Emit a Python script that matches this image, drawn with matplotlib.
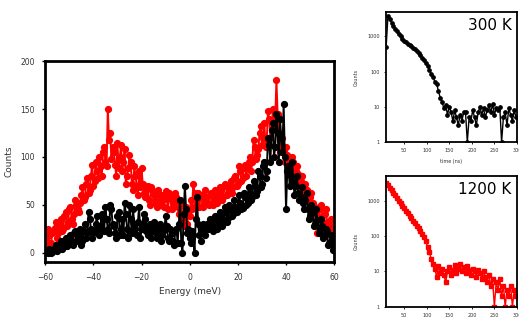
import numpy as np
import matplotlib.pyplot as plt
from matplotlib.ticker import FixedLocator, NullLocator

# dados do espectro principal (energia em meV)
# valores nos meV inteiros
energia_inteira = np.arange(-60, 61, 1)

contagens_1200k = [
    12, 25, 8, 20, 26, 15, 30, 22, 38, 28,
    45, 35, 40, 50, 42, 60, 55, 72, 62, 80,
    70, 95, 78, 90, 105, 95, 150, 125, 110, 92,
    115, 100, 85, 108, 80, 102, 72, 90, 70, 85,
    88, 62, 65, 55, 68, 60, 52, 65, 50, 60,
    64, 45, 58, 52, 62, 48, 55, 35, 42, 30,
    38, 45, 62, 55, 48, 60, 52, 58, 50, 62,
    55, 58, 60, 65, 58, 70, 62, 75, 68, 80,
    72, 85, 78, 92, 88, 100, 95, 110, 102, 125,
    112, 135, 118, 140, 128, 132, 180, 125, 112, 105,
    110, 100, 92, 95, 85, 82, 75, 68, 72, 62,
    58, 52, 48, 20, 45, 38, 40, 32, 30, 25,
    22,
]

contagens_300k = [
    2, 0, 3, 1, 5, 2, 8, 4, 12, 7,
    15, 10, 20, 12, 18, 8, 22, 15, 42, 25,
    20, 30, 22, 28, 35, 48, 25, 50, 30, 20,
    38, 18, 35, 52, 25, 50, 20, 30, 18, 48,
    25, 40, 22, 28, 15, 32, 20, 25, 12, 22,
    38, 15, 25, 12, 22, 10, 55, 0, 70, 20,
    15, 22, 0, 58, 18, 25, 22, 30, 26, 32,
    28, 35, 30, 38, 33, 42, 36, 45, 40, 48,
    44, 52, 47, 58, 52, 62, 58, 70, 64, 80,
    72, 95, 85, 112, 128, 100, 145, 95, 120, 155,
    45, 90, 80, 75, 70, 62, 58, 52, 55, 45,
    38, 42, 30, 34, 25, 28, 18, 22, 10, 12,
    5,
]

# valores nos meios meV (-59.5 ... 59.5)
energia_meia = np.arange(-59.5, 60, 1)

contagens_1200k_meia = [
    15, 18, 10, 22, 32, 20, 35, 25, 42, 32,
    48, 30, 55, 45, 52, 68, 58, 78, 65, 92,
    75, 85, 100, 80, 110, 90, 118, 98, 105, 80,
    88, 112, 95, 72, 88, 95, 65, 80, 60, 68,
    72, 58, 70, 50, 65, 55, 48, 60, 55, 48,
    56, 62, 45, 55, 58, 40, 50, 28, 48, 42,
    55, 72, 50, 62, 58, 48, 65, 52, 60, 50,
    65, 52, 68, 55, 72, 60, 68, 62, 78, 70,
    90, 75, 88, 80, 95, 85, 118, 98, 108, 132,
    120, 110, 148, 120, 150, 140, 145, 105, 120, 95,
    102, 88, 100, 78, 90, 70, 80, 60, 65, 55,
    62, 45, 40, 35, 50, 30, 45, 28, 35, 20,
]

contagens_300k_meia = [
    1, 4, 0, 3, 8, 5, 12, 6, 15, 10,
    18, 8, 22, 14, 25, 12, 30, 20, 35, 15,
    22, 38, 18, 40, 22, 35, 20, 45, 28, 15,
    42, 25, 18, 40, 15, 35, 45, 25, 32, 15,
    30, 35, 18, 30, 22, 28, 15, 30, 18, 25,
    28, 12, 20, 8, 25, 30, 10, 40, 45, 25,
    10, 18, 35, 30, 12, 30, 18, 25, 35, 22,
    38, 25, 42, 28, 48, 32, 50, 38, 55, 42,
    60, 45, 62, 50, 68, 55, 75, 60, 85, 68,
    90, 78, 120, 95, 135, 110, 125, 140, 105, 100,
    85, 70, 95, 60, 80, 55, 68, 45, 62, 35,
    50, 28, 45, 20, 35, 15, 25, 8, 18, 3,
]

# junta os dois conjuntos em ordem de energia
energia = np.empty(241)
energia[0::2] = energia_inteira
energia[1::2] = energia_meia
serie_1200k = np.empty(241)
serie_1200k[0::2] = contagens_1200k
serie_1200k[1::2] = contagens_1200k_meia
serie_300k = np.empty(241)
serie_300k[0::2] = contagens_300k
serie_300k[1::2] = contagens_300k_meia

# dados dos decaimentos (tempo em ns)
tempo = np.arange(10, 301, 4)

decaimento_300k = [
    500, 3800, 3100, 2500, 2000, 1650, 1400, 1200, 1000, 860,
    760, 680, 620, 560, 520, 470, 430, 390, 340, 290,
    245, 210, 175, 145, 110, 85, 70, 52, 45, 28,
    18, 14, 9, 11, 6, 10, 7, 4, 8, 5,
    3, 6, 4, 7, 7, 1, 5, 4, 8, 5,
    3, 7, 10, 6, 9, 5, 8, 11, 7, 12,
    6, 9, 8, 10, 1, 5, 7, 3, 9, 6,
    4, 8, 5,
]

decaimento_1200k = [
    3200, 2700, 2300, 1950, 1650, 1400, 1200, 1000, 850, 720,
    610, 520, 440, 370, 320, 270, 230, 195, 165, 140,
    115, 95, 70, 50, 35, 22, 16, 12, 7, 14,
    9, 12, 8, 5, 10, 13, 8, 11, 15, 9,
    12, 16, 10, 13, 9, 14, 11, 8, 12, 10,
    7, 11, 9, 6, 10, 7, 5, 8, 4, 6,
    1, 5, 3, 6, 2, 4, 1, 3, 2, 4,
    1, 3, 2,
]

cor_texto = '#333333'

fig = plt.figure(figsize=(5.19, 3.22), dpi=100)

# grafico principal
ax = fig.add_axes([0.087, 0.186, 0.557, 0.624])
ax.plot(energia, serie_1200k, color='red', marker='o', markersize=4.2,
        linewidth=1.4)
ax.plot(energia, serie_300k, color='black', marker='o', markersize=4.2,
        linewidth=1.4)
ax.set_xlim(-60, 60)
ax.set_ylim(-10, 200)
ax.set_xticks([-60, -40, -20, 0, 20, 40, 60])
ax.set_yticks([0, 50, 100, 150, 200])
ax.set_xlabel('Energy (meV)', fontsize=6.5, color=cor_texto, labelpad=4)
ax.set_ylabel('Counts', fontsize=6.5, color=cor_texto, labelpad=5)
ax.tick_params(labelsize=5.5, labelcolor=cor_texto, direction='out',
               length=2.5, width=1, pad=5)
for s in ax.spines.values():
    s.set_linewidth(2)

# inset 300 K
ax1 = fig.add_axes([0.744, 0.559, 0.252, 0.404])
ax1.plot(tempo, decaimento_300k, color='black', marker='o', markersize=2.4,
         linewidth=1.0)
ax1.text(0.96, 0.95, '300 K', transform=ax1.transAxes, ha='right', va='top',
         fontsize=11)
ax1.set_xlabel('time (ns)', fontsize=3.5, color=cor_texto, labelpad=4)

# inset 1200 K
ax2 = fig.add_axes([0.744, 0.047, 0.252, 0.407])
ax2.plot(tempo, decaimento_1200k, color='red', marker='s', markersize=2.4,
         linewidth=1.0)
ax2.text(0.96, 0.95, '1200 K', transform=ax2.transAxes, ha='right', va='top',
         fontsize=11)
ax2.set_xlabel('time (ns)', fontsize=3.5, color=cor_texto, labelpad=3)

for a in (ax1, ax2):
    a.set_yscale('log')
    a.set_xlim(10, 300)
    a.set_ylim(1, 5000)
    a.set_xticks([50, 100, 150, 200, 250, 300])
    a.yaxis.set_major_locator(FixedLocator([1, 10, 100, 1000]))
    a.yaxis.set_minor_locator(NullLocator())
    a.set_yticklabels(['1', '10', '100', '1000'])
    a.set_ylabel('Counts', fontsize=3.5, color=cor_texto, labelpad=6)
    a.tick_params(labelsize=3.5, labelcolor=cor_texto, direction='out',
                  length=1.5, width=0.6, pad=3)
    for s in a.spines.values():
        s.set_linewidth(1.3)

fig.savefig('out.png', dpi=100)
